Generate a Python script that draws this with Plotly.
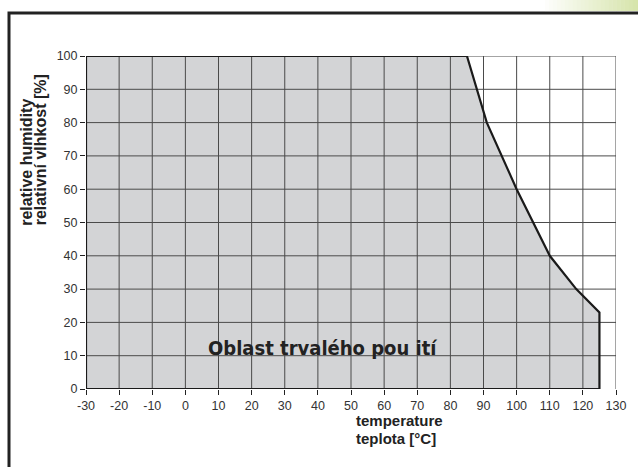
import plotly.graph_objects as go

# Boundary of the permanent-use region (temperature °C, relative humidity %)
temp = [-30, -30, 85, 91, 100, 110, 118, 125, 125, -30]
humidity = [0, 100, 100, 80, 60, 40, 30, 23, 0, 0]

x_ticks = [-30, -20, -10, 0, 10, 20, 30, 40, 50, 60, 70, 80, 90, 100, 110, 120, 130]
x_tick_text = ["-30", "-20", "-10", "0", "10", "20", "30", "40", "50", "60",
               "70", "80", "90", "100", "110", "120", "130"]
y_ticks = [0, 10, 20, 30, 40, 50, 60, 70, 80, 90, 100]
y_tick_text = ["0", "10", "20", "30", "40", "50", "60", "70", "80", "90", "100"]

region_label = "Oblast trvalého pou ití"
x_title_lines = ["temperature", "teplota [°C]"]
y_title_lines = ["relative humidity", "relativní vlhkost [%]"]

xmin, xmax = x_ticks[0], x_ticks[-1]
ymin, ymax = y_ticks[0], y_ticks[-1]

W, H = 638, 467
L, T, PW, PH = 86, 56, 530, 333.3


def px(x):
    return (x - L) / PW


def py(y):
    return (T + PH - y) / PH


fig = go.Figure()

# filled region
fig.add_trace(go.Scatter(x=temp, y=humidity, mode="lines", fill="toself",
                         fillcolor="#d3d4d6", line=dict(width=0),
                         hoverinfo="skip", showlegend=False))

# grid drawn on top of the fill
gx, gy = [], []
for t in x_ticks[1:]:
    gx += [t, t, None]
    gy += [ymin, ymax, None]
for h in y_ticks[1:]:
    gx += [xmin, xmax, None]
    gy += [h, h, None]
fig.add_trace(go.Scatter(x=gx, y=gy, mode="lines",
                         line=dict(color="#4a4a4a", width=1),
                         hoverinfo="skip", showlegend=False))

# outline of region
fig.add_trace(go.Scatter(x=temp, y=humidity, mode="lines",
                         line=dict(color="#1a1a1a", width=2.2),
                         hoverinfo="skip", showlegend=False))

tickfont = dict(family="Liberation Sans, Arial, sans-serif", size=12.5, color="#333")
fig.update_xaxes(range=[xmin, xmax], tickvals=x_ticks, ticktext=x_tick_text,
                 showgrid=False, zeroline=False, showline=False,
                 ticks="outside", ticklen=5, tickcolor="#222", tickwidth=1,
                 tickfont=tickfont)
fig.update_yaxes(range=[ymin, ymax], tickvals=y_ticks, ticktext=y_tick_text,
                 showgrid=False, zeroline=False, showline=False,
                 ticks="outside", ticklen=5, tickcolor="#222", tickwidth=1,
                 tickfont=tickfont)

titlefont = dict(family="Liberation Sans, Arial, sans-serif", size=15, color="#222")
fig.add_annotation(text="<b>" + region_label + "</b>", x=41.5, y=12.2,
                   xref="x", yref="y", showarrow=False,
                   font=dict(family="DejaVu Sans Condensed, DejaVu Sans, sans-serif",
                             size=20, color="#222"))
for line, ypix in zip(x_title_lines, [421, 438.5]):
    fig.add_annotation(text="<b>" + line + "</b>", xref="paper", yref="paper",
                       x=px(354), y=py(ypix), xanchor="left", yanchor="middle",
                       showarrow=False, font=titlefont)
for line, xpix in zip(y_title_lines, [26.5, 40]):
    fig.add_annotation(text="<b>" + line + "</b>", xref="paper", yref="paper",
                       x=px(xpix), y=py(228), xanchor="center", yanchor="bottom",
                       textangle=-90, showarrow=False,
                       font=dict(family="Liberation Sans, Arial, sans-serif",
                                 size=16, color="#222"))

# outer frame
fig.add_shape(type="rect", xref="paper", yref="paper",
              x0=px(9), x1=px(660), y0=py(490), y1=py(13),
              line=dict(color="#222", width=3), layer="below")

# green gradient strip at top right
n = 24
for i in range(n):
    x0 = 545 + i * (95 / n)
    x1 = x0 + 95 / n + 0.5
    f = (i + 1) / n
    r = int(255 - f * (255 - 214))
    g = int(255 - f * (255 - 228))
    b = int(255 - f * (255 - 170))
    fig.add_shape(type="rect", xref="paper", yref="paper",
                  x0=px(x0), x1=px(x1), y0=py(11), y1=py(-2),
                  line=dict(width=0), fillcolor=f"rgb({r},{g},{b})", layer="below")

fig.update_layout(width=W, height=H,
                  margin=dict(l=L, r=W - L - PW, t=T, b=H - T - PH),
                  plot_bgcolor="white", paper_bgcolor="white")

fig.write_html("out.html", config={"displayModeBar": False},
               post_script="document.body.style.margin='0';document.body.style.overflow='hidden';")
